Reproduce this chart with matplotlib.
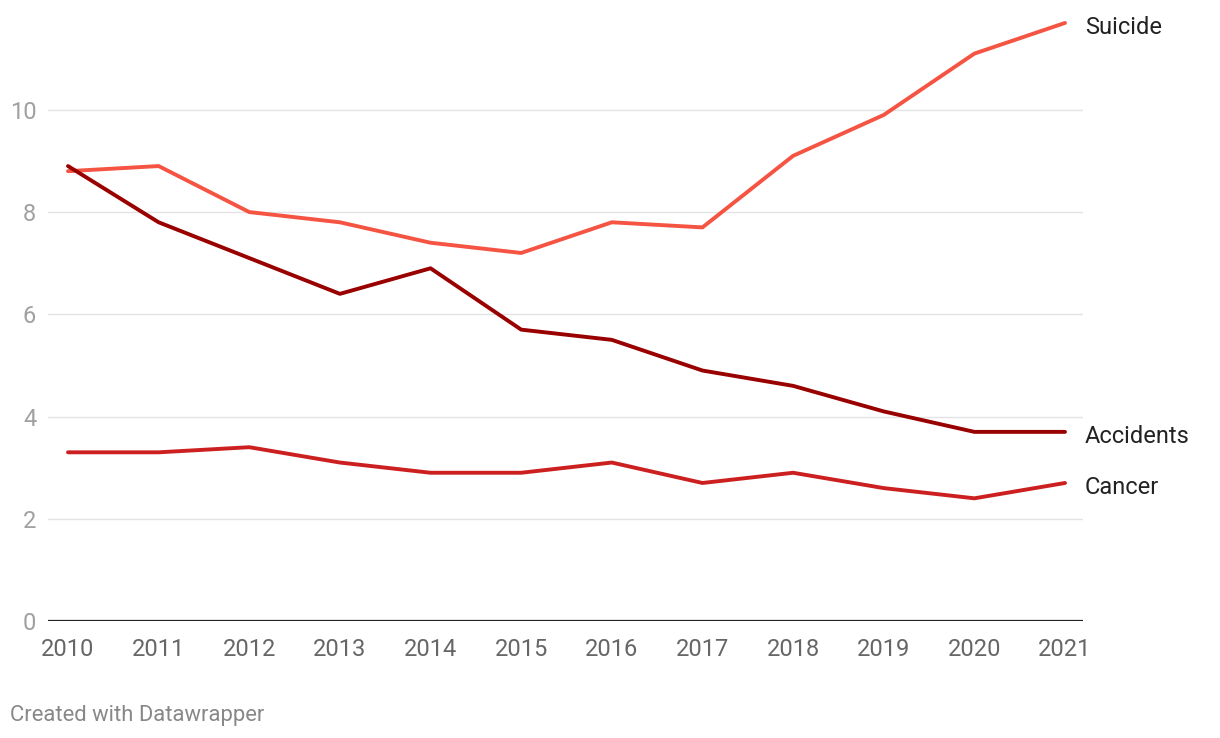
import matplotlib
matplotlib.use("Agg")
import matplotlib.pyplot as plt

years = list(range(2010, 2022))
suicide = [8.8, 8.9, 8.0, 7.8, 7.4, 7.2, 7.8, 7.7, 9.1, 9.9, 11.1, 11.7]
accidents = [8.9, 7.8, 7.1, 6.4, 6.9, 5.7, 5.5, 4.9, 4.6, 4.1, 3.7, 3.7]
cancer = [3.3, 3.3, 3.4, 3.1, 2.9, 2.9, 3.1, 2.7, 2.9, 2.6, 2.4, 2.7]
series_names = ["Suicide", "Accidents", "Cancer"]
colors = ["#f55443", "#990000", "#cc2020"]
yticks = [0, 2, 4, 6, 8, 10]

plt.rcParams['font.family'] = ['Roboto', 'DejaVu Sans']

W, H = 1220, 738
fig = plt.figure(figsize=(W / 100, H / 100), dpi=100)
left, right, bottom, top = 48, 1083, 621, 7.6
ax = fig.add_axes([left / W, (H - bottom) / H, (right - left) / W, (bottom - top) / H])

x0 = 2010 - 20 / 90.64
x1 = 2021 + 18 / 90.64
ax.set_xlim(x0, x1)
ax.set_ylim(0, 12)

for yv in yticks[1:]:
    ax.axhline(yv, color="#e3e3e3", lw=1, zorder=0)
ax.axhline(0, color="#222222", lw=1.6, zorder=3)

for vals, name, c in zip([suicide, accidents, cancer], series_names, colors):
    ax.plot(years, vals, color=c, lw=2.8, solid_capstyle="round", solid_joinstyle="round", zorder=4)
    ax.text(2021 + 20 / 90.64, vals[-1] - 0.09, name, fontsize=17, color="#222222",
            va="center", ha="left", clip_on=False)

for s in ax.spines.values():
    s.set_visible(False)

ax.set_yticks(yticks)
ax.set_yticklabels([str(v) for v in yticks], fontsize=17, color="#a0a0a0")
ax.tick_params(axis="y", length=0, pad=8.5)
ax.set_xticks(years)
ax.set_xticklabels([str(y) for y in years], fontsize=17, color="#666666")
ax.tick_params(axis="x", length=0, pad=12.5)

fig.text(10 / W, 1 - 716 / H, "Created with Datawrapper", fontsize=15.8, color="#888888",
         ha="left", va="center")

fig.savefig("out.png", dpi=100, facecolor="white")
